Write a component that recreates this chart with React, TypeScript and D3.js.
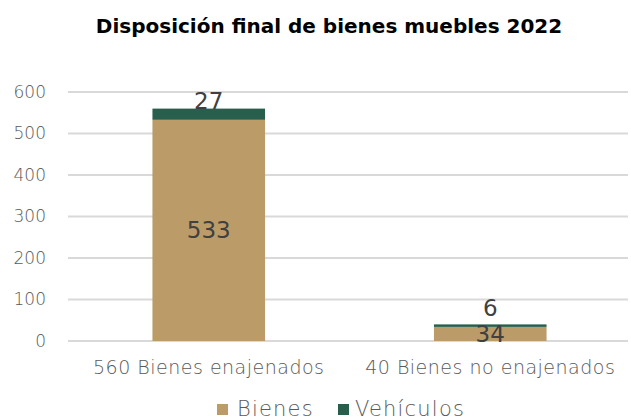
import React from "react";
import * as d3 from "d3";

const categories = ["560 Bienes enajenados", "40 Bienes no enajenados"];
const seriesNames = ["Bienes", "Vehículos"];
const bienes = [533, 34];
const vehiculos = [27, 6];
const yTicks = [0, 100, 200, 300, 400, 500, 600];
const title = "Disposición final de bienes muebles 2022";

const colors = ["#BB9B68", "#285E4C"];
const FONT = "'DejaVu Sans', sans-serif";

export default function App() {
  const width = 631;
  const height = 420;
  const margin = { left: 68, right: 0, top: 92, bottom: 79 };
  const gridRight = 628;
  const x = d3
    .scaleBand<string>()
    .domain(categories)
    .range([margin.left, width - margin.right])
    .paddingInner(0.6)
    .paddingOuter(0.3);
  const y = d3.scaleLinear().domain([0, 600]).range([height - margin.bottom, margin.top]);

  const rows = categories.map((c, i) => ({ cat: c, Bienes: bienes[i], "Vehículos": vehiculos[i] }));
  const stacked = d3.stack<any>().keys(seriesNames)(rows);

  const topLabelOffsets = [0, -8];

  return (
    <svg width={width} height={height} style={{ position: "absolute", left: 0, top: 0, background: "#fff" }}>
      <text x={329} y={33} textAnchor="middle" fontFamily={FONT} fontWeight={700} fontSize={20} fill="#000">
        {title}
      </text>
      {yTicks.map((t) => (
        <g key={t}>
          <line x1={margin.left} x2={gridRight} y1={y(t)} y2={y(t)} stroke="#D9D9D9" strokeWidth={2} />
          <text x={46} y={y(t)} dy="0.35em" textAnchor="end" fontFamily={FONT} fontWeight={200} fontSize={17} fill="#595959">
            {t}
          </text>
        </g>
      ))}
      {stacked.map((s, si) => (
        <g key={s.key}>
          {s.map((d, i) => (
            <rect
              key={i}
              x={x(categories[i])}
              width={x.bandwidth()}
              y={y(d[1])}
              height={y(d[0]) - y(d[1])}
              fill={colors[si]}
            />
          ))}
        </g>
      ))}
      {stacked[0].map((d, i) => (
        <text
          key={"l0" + i}
          x={x(categories[i])! + x.bandwidth() / 2}
          y={(y(d[0]) + y(d[1])) / 2}
          dy="0.35em"
          textAnchor="middle"
          fontFamily={FONT}
          fontSize={23}
          fill="#404040"
        >
          {bienes[i]}
        </text>
      ))}
      {stacked[1].map((d, i) => (
        <text
          key={"l1" + i}
          x={x(categories[i])! + x.bandwidth() / 2}
          y={y(d[1]) + topLabelOffsets[i]}
          textAnchor="middle"
          fontFamily={FONT}
          fontSize={23}
          fill="#404040"
        >
          {vehiculos[i]}
        </text>
      ))}
      {categories.map((c) => (
        <text
          key={c}
          x={x(c)! + x.bandwidth() / 2}
          y={374}
          textAnchor="middle"
          fontFamily={FONT}
          fontWeight={200}
          fontSize={19}
          letterSpacing={0.5}
          fill="#595959"
        >
          {c}
        </text>
      ))}
      <g>
        <rect x={217} y={404} width={11} height={11} fill={colors[0]} />
        <text x={237} y={416} fontFamily={FONT} fontWeight={200} fontSize={21} letterSpacing={1.2} fill="#595959">
          {seriesNames[0]}
        </text>
        <rect x={338} y={404} width={11} height={11} fill={colors[1]} />
        <text x={355} y={416} fontFamily={FONT} fontWeight={200} fontSize={21} letterSpacing={1.2} fill="#595959">
          {seriesNames[1]}
        </text>
      </g>
    </svg>
  );
}
